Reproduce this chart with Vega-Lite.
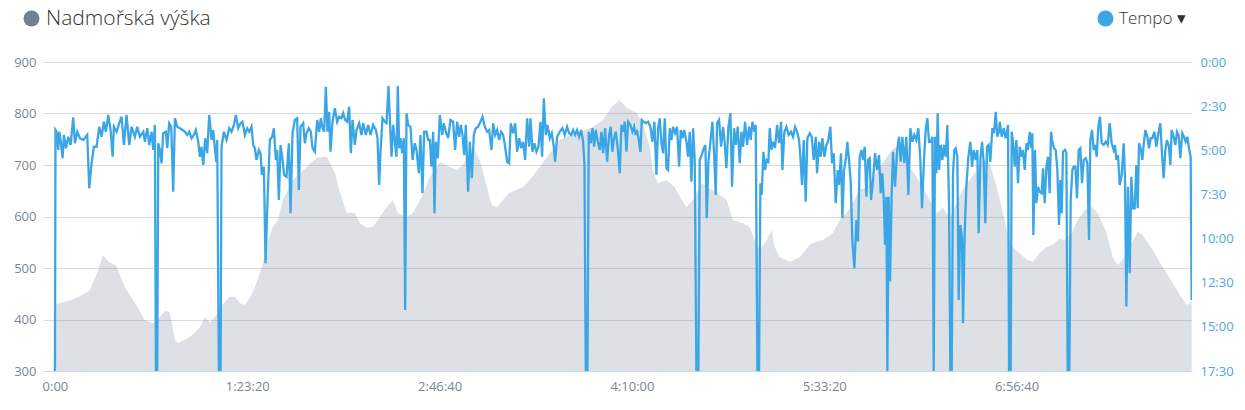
{
"$schema": "https://vega.github.io/schema/vega-lite/v6.json",
"width": 1149, "height": 309,
"autosize": {"type": "none"},
"padding": {"left": 43, "top": 62, "right": 53, "bottom": 39},
"background": "white",
"config": {"view": {"stroke": null}, "font": "Open Sans"},
"datasets": {
"elevation": [
{"t":0,"alt":430},{"t":130,"alt":432},{"t":390,"alt":437},{"t":650,"alt":445},{"t":910,"alt":457},{"t":1092,"alt":490},{"t":1248,"alt":525},{"t":1429,"alt":510},{"t":1585,"alt":506},{"t":1819,"alt":463},{"t":2079,"alt":432},{"t":2339,"alt":399},{"t":2521,"alt":393},{"t":2625,"alt":393},{"t":2729,"alt":405},{"t":2885,"alt":418},{"t":2989,"alt":413},{"t":3119,"alt":360},{"t":3197,"alt":354},{"t":3509,"alt":366},{"t":3769,"alt":385},{"t":3899,"alt":405},{"t":4028,"alt":393},{"t":4158,"alt":405},{"t":4288,"alt":424},{"t":4548,"alt":444},{"t":4678,"alt":444},{"t":4808,"alt":432},{"t":4938,"alt":428},{"t":5068,"alt":442},{"t":5198,"alt":463},{"t":5380,"alt":502},{"t":5536,"alt":554},{"t":5666,"alt":580},{"t":5796,"alt":593},{"t":5926,"alt":632},{"t":6186,"alt":671},{"t":6549,"alt":696},{"t":6809,"alt":714},{"t":7069,"alt":716},{"t":7277,"alt":685},{"t":7407,"alt":646},{"t":7589,"alt":607},{"t":7797,"alt":607},{"t":7927,"alt":587},{"t":8109,"alt":578},{"t":8265,"alt":580},{"t":8447,"alt":599},{"t":8629,"alt":619},{"t":8785,"alt":632},{"t":8915,"alt":607},{"t":9148,"alt":599},{"t":9304,"alt":607},{"t":9538,"alt":638},{"t":9746,"alt":677},{"t":9876,"alt":690},{"t":10006,"alt":706},{"t":10266,"alt":696},{"t":10448,"alt":690},{"t":10604,"alt":700},{"t":10864,"alt":735},{"t":11046,"alt":710},{"t":11228,"alt":657},{"t":11358,"alt":622},{"t":11488,"alt":618},{"t":11644,"alt":632},{"t":11825,"alt":646},{"t":12007,"alt":652},{"t":12163,"alt":657},{"t":12345,"alt":671},{"t":12605,"alt":696},{"t":12865,"alt":723},{"t":13125,"alt":749},{"t":13385,"alt":758},{"t":13645,"alt":764},{"t":13983,"alt":774},{"t":14243,"alt":787},{"t":14476,"alt":813},{"t":14684,"alt":826},{"t":14866,"alt":811},{"t":15126,"alt":801},{"t":15282,"alt":781},{"t":15464,"alt":735},{"t":15542,"alt":690},{"t":15672,"alt":665},{"t":15906,"alt":671},{"t":16114,"alt":657},{"t":16296,"alt":632},{"t":16426,"alt":618},{"t":16582,"alt":632},{"t":16816,"alt":665},{"t":16971,"alt":657},{"t":17205,"alt":646},{"t":17465,"alt":632},{"t":17621,"alt":593},{"t":17881,"alt":587},{"t":18063,"alt":580},{"t":18193,"alt":554},{"t":18323,"alt":535},{"t":18505,"alt":554},{"t":18635,"alt":574},{"t":18713,"alt":541},{"t":18843,"alt":521},{"t":19103,"alt":512},{"t":19363,"alt":521},{"t":19622,"alt":545},{"t":19752,"alt":550},{"t":19960,"alt":554},{"t":20220,"alt":568},{"t":20402,"alt":593},{"t":20584,"alt":607},{"t":20740,"alt":626},{"t":20922,"alt":652},{"t":21130,"alt":657},{"t":21364,"alt":685},{"t":21520,"alt":704},{"t":21754,"alt":729},{"t":21884,"alt":737},{"t":22040,"alt":723},{"t":22221,"alt":696},{"t":22403,"alt":677},{"t":22559,"alt":657},{"t":22741,"alt":632},{"t":22923,"alt":607},{"t":23079,"alt":617},{"t":23261,"alt":599},{"t":23443,"alt":626},{"t":23599,"alt":652},{"t":23781,"alt":671},{"t":23963,"alt":690},{"t":24119,"alt":710},{"t":24301,"alt":704},{"t":24483,"alt":657},{"t":24613,"alt":618},{"t":24691,"alt":593},{"t":24743,"alt":574},{"t":24898,"alt":541},{"t":25080,"alt":529},{"t":25262,"alt":516},{"t":25418,"alt":512},{"t":25600,"alt":529},{"t":25782,"alt":541},{"t":25938,"alt":545},{"t":26120,"alt":558},{"t":26250,"alt":554},{"t":26432,"alt":568},{"t":26588,"alt":593},{"t":26770,"alt":613},{"t":26952,"alt":619},{"t":27108,"alt":607},{"t":27342,"alt":568},{"t":27498,"alt":521},{"t":27628,"alt":506},{"t":27758,"alt":516},{"t":27992,"alt":548},{"t":28147,"alt":570},{"t":28277,"alt":564},{"t":28537,"alt":535},{"t":28797,"alt":502},{"t":29057,"alt":471},{"t":29291,"alt":442},{"t":29421,"alt":428},{"t":29551,"alt":434}
],
"pace": [
{"t":0,"p":1050},{"t":15,"p":231},{"t":43,"p":237},{"t":87,"p":299},{"t":113,"p":237},{"t":147,"p":265},{"t":199,"p":327},{"t":234,"p":248},{"t":286,"p":293},{"t":346,"p":254},{"t":407,"p":282},{"t":476,"p":188},{"t":520,"p":276},{"t":580,"p":237},{"t":650,"p":259},{"t":736,"p":265},{"t":840,"p":248},{"t":892,"p":429},{"t":953,"p":344},{"t":1014,"p":288},{"t":1083,"p":288},{"t":1152,"p":220},{"t":1213,"p":254},{"t":1273,"p":203},{"t":1325,"p":237},{"t":1386,"p":180},{"t":1447,"p":231},{"t":1499,"p":322},{"t":1533,"p":220},{"t":1603,"p":237},{"t":1672,"p":208},{"t":1733,"p":186},{"t":1793,"p":282},{"t":1862,"p":180},{"t":1932,"p":282},{"t":1992,"p":220},{"t":2079,"p":254},{"t":2140,"p":220},{"t":2209,"p":254},{"t":2296,"p":237},{"t":2339,"p":271},{"t":2400,"p":225},{"t":2452,"p":282},{"t":2512,"p":237},{"t":2556,"p":299},{"t":2599,"p":214},{"t":2625,"p":1050},{"t":2660,"p":1050},{"t":2686,"p":276},{"t":2729,"p":299},{"t":2772,"p":344},{"t":2815,"p":242},{"t":2885,"p":237},{"t":2919,"p":293},{"t":2971,"p":208},{"t":3023,"p":220},{"t":3075,"p":441},{"t":3119,"p":191},{"t":3179,"p":220},{"t":3249,"p":225},{"t":3318,"p":231},{"t":3379,"p":237},{"t":3439,"p":248},{"t":3491,"p":237},{"t":3552,"p":259},{"t":3612,"p":248},{"t":3664,"p":231},{"t":3725,"p":271},{"t":3768,"p":322},{"t":3812,"p":288},{"t":3855,"p":350},{"t":3907,"p":259},{"t":3959,"p":310},{"t":4011,"p":180},{"t":4072,"p":265},{"t":4115,"p":231},{"t":4158,"p":293},{"t":4193,"p":339},{"t":4219,"p":265},{"t":4262,"p":1050},{"t":4306,"p":1050},{"t":4331,"p":288},{"t":4392,"p":237},{"t":4461,"p":265},{"t":4531,"p":225},{"t":4591,"p":237},{"t":4652,"p":214},{"t":4704,"p":180},{"t":4765,"p":225},{"t":4825,"p":208},
{"t":4877,"p":203},{"t":4938,"p":248},{"t":4999,"p":225},{"t":5051,"p":237},{"t":5111,"p":220},{"t":5155,"p":282},{"t":5198,"p":293},{"t":5241,"p":333},{"t":5302,"p":299},{"t":5345,"p":310},{"t":5380,"p":384},{"t":5432,"p":356},{"t":5475,"p":684},{"t":5527,"p":469},{"t":5588,"p":265},{"t":5648,"p":254},{"t":5692,"p":225},{"t":5744,"p":333},{"t":5778,"p":299},{"t":5822,"p":469},{"t":5865,"p":282},{"t":5917,"p":333},{"t":5960,"p":384},{"t":6021,"p":390},{"t":6081,"p":276},{"t":6125,"p":514},{"t":6177,"p":242},{"t":6237,"p":197},{"t":6298,"p":191},{"t":6341,"p":435},{"t":6385,"p":220},{"t":6454,"p":208},{"t":6497,"p":276},{"t":6541,"p":242},{"t":6601,"p":225},{"t":6653,"p":237},{"t":6697,"p":293},{"t":6757,"p":305},{"t":6818,"p":197},{"t":6870,"p":237},{"t":6913,"p":191},{"t":6956,"p":225},{"t":7000,"p":237},{"t":7043,"p":84},{"t":7086,"p":237},{"t":7130,"p":169},{"t":7164,"p":305},{"t":7216,"p":203},{"t":7277,"p":157},{"t":7338,"p":203},{"t":7390,"p":186},{"t":7450,"p":191},{"t":7494,"p":174},{"t":7545,"p":197},{"t":7597,"p":203},{"t":7649,"p":152},{"t":7693,"p":310},{"t":7736,"p":197},{"t":7797,"p":282},{"t":7840,"p":231},{"t":7909,"p":208},{"t":7970,"p":248},{"t":8013,"p":208},{"t":8083,"p":248},{"t":8143,"p":214},{"t":8204,"p":248},{"t":8273,"p":214},{"t":8343,"p":231},{"t":8386,"p":259},{"t":8429,"p":418},{"t":8464,"p":305},{"t":8516,"p":191},{"t":8576,"p":203},{"t":8620,"p":208},{"t":8672,"p":82},{"t":8706,"p":191},{"t":8750,"p":322},{"t":8793,"p":214},{"t":8845,"p":282},{"t":8880,"p":322},{"t":8914,"p":82},{"t":8949,"p":293},{"t":8984,"p":259},{"t":9027,"p":310},{"t":9070,"p":259},{"t":9105,"p":843},{"t":9140,"p":174},{"t":9183,"p":214},{"t":9244,"p":220},{"t":9296,"p":333},{"t":9356,"p":276},{"t":9399,"p":299},{"t":9460,"p":378},{"t":9503,"p":248},{"t":9555,"p":446},{"t":9599,"p":237},{"t":9659,"p":237},{"t":9703,"p":265},
{"t":9746,"p":265},{"t":9789,"p":356},{"t":9833,"p":237},{"t":9867,"p":514},{"t":9902,"p":271},{"t":9954,"p":327},{"t":10006,"p":180},{"t":10067,"p":248},{"t":10110,"p":208},{"t":10162,"p":237},{"t":10222,"p":259},{"t":10283,"p":197},{"t":10352,"p":203},{"t":10404,"p":299},{"t":10456,"p":203},{"t":10508,"p":254},{"t":10552,"p":214},{"t":10595,"p":248},{"t":10638,"p":316},{"t":10682,"p":214},{"t":10742,"p":441},{"t":10786,"p":271},{"t":10838,"p":395},{"t":10890,"p":248},{"t":10941,"p":225},{"t":11002,"p":220},{"t":11063,"p":203},{"t":11115,"p":186},{"t":11175,"p":220},{"t":11236,"p":237},{"t":11288,"p":231},{"t":11349,"p":299},{"t":11392,"p":208},{"t":11444,"p":248},{"t":11496,"p":231},{"t":11548,"p":265},{"t":11600,"p":237},{"t":11652,"p":248},{"t":11704,"p":288},{"t":11756,"p":339},{"t":11808,"p":344},{"t":11851,"p":208},{"t":11912,"p":242},{"t":11964,"p":208},{"t":12016,"p":305},{"t":12068,"p":259},{"t":12120,"p":293},{"t":12172,"p":271},{"t":12224,"p":333},{"t":12276,"p":191},{"t":12328,"p":288},{"t":12362,"p":191},{"t":12414,"p":305},{"t":12466,"p":276},{"t":12518,"p":305},{"t":12570,"p":288},{"t":12622,"p":203},{"t":12665,"p":322},{"t":12709,"p":123},{"t":12761,"p":248},{"t":12804,"p":214},{"t":12865,"p":259},{"t":12917,"p":242},{"t":12969,"p":288},{"t":13003,"p":339},{"t":13055,"p":254},{"t":13125,"p":237},{"t":13194,"p":225},{"t":13254,"p":248},{"t":13315,"p":220},{"t":13367,"p":242},{"t":13419,"p":248},{"t":13471,"p":231},{"t":13523,"p":248},{"t":13575,"p":231},{"t":13627,"p":254},{"t":13679,"p":231},{"t":13731,"p":271},{"t":13766,"p":350},{"t":13800,"p":1050},{"t":13844,"p":1050},{"t":13878,"p":237},{"t":13930,"p":276},{"t":13974,"p":225},{"t":14017,"p":288},{"t":14060,"p":231},{"t":14112,"p":271},{"t":14164,"p":299},{"t":14207,"p":237},{"t":14251,"p":310},{"t":14303,"p":225},{"t":14355,"p":339},{"t":14407,"p":248},{"t":14450,"p":220},{"t":14493,"p":305},{"t":14528,"p":265},{"t":14580,"p":237},{"t":14632,"p":293},{"t":14684,"p":378},
{"t":14727,"p":214},{"t":14771,"p":237},{"t":14814,"p":203},{"t":14857,"p":305},{"t":14901,"p":203},{"t":14961,"p":214},{"t":15013,"p":237},{"t":15057,"p":220},{"t":15100,"p":248},{"t":15134,"p":231},{"t":15178,"p":265},{"t":15221,"p":305},{"t":15256,"p":197},{"t":15308,"p":203},{"t":15360,"p":208},{"t":15420,"p":203},{"t":15481,"p":220},{"t":15533,"p":271},{"t":15585,"p":203},{"t":15637,"p":384},{"t":15680,"p":225},{"t":15724,"p":191},{"t":15767,"p":276},{"t":15810,"p":310},{"t":15854,"p":191},{"t":15897,"p":361},{"t":15940,"p":367},{"t":15983,"p":225},{"t":16027,"p":265},{"t":16070,"p":220},{"t":16122,"p":242},{"t":16174,"p":220},{"t":16226,"p":356},{"t":16269,"p":231},{"t":16313,"p":259},{"t":16356,"p":231},{"t":16417,"p":271},{"t":16460,"p":322},{"t":16503,"p":237},{"t":16547,"p":407},{"t":16590,"p":225},{"t":16633,"p":333},{"t":16676,"p":1050},{"t":16728,"p":1050},{"t":16763,"p":333},{"t":16815,"p":316},{"t":16867,"p":293},{"t":16910,"p":282},{"t":16945,"p":531},{"t":16988,"p":339},{"t":17040,"p":271},{"t":17092,"p":203},{"t":17136,"p":310},{"t":17179,"p":452},{"t":17214,"p":208},{"t":17266,"p":197},{"t":17318,"p":288},{"t":17370,"p":220},{"t":17413,"p":276},{"t":17456,"p":361},{"t":17508,"p":220},{"t":17560,"p":174},{"t":17603,"p":424},{"t":17655,"p":225},{"t":17699,"p":282},{"t":17751,"p":220},{"t":17803,"p":344},{"t":17846,"p":237},{"t":17889,"p":288},{"t":17941,"p":203},{"t":17993,"p":282},{"t":18045,"p":220},{"t":18089,"p":265},{"t":18132,"p":203},{"t":18184,"p":237},{"t":18218,"p":214},{"t":18262,"p":1050},{"t":18305,"p":1050},{"t":18340,"p":412},{"t":18374,"p":452},{"t":18418,"p":305},{"t":18461,"p":367},{"t":18504,"p":333},{"t":18548,"p":339},{"t":18582,"p":225},{"t":18626,"p":299},{"t":18669,"p":271},{"t":18721,"p":293},{"t":18773,"p":214},{"t":18825,"p":276},{"t":18877,"p":203},{"t":18912,"p":367},{"t":18964,"p":237},{"t":19016,"p":220},{"t":19076,"p":248},{"t":19137,"p":237},{"t":19189,"p":254},{"t":19241,"p":220},{"t":19293,"p":237},{"t":19345,"p":265},{"t":19379,"p":322},{"t":19423,"p":418},{"t":19466,"p":265},{"t":19518,"p":475},{"t":19561,"p":259},{"t":19622,"p":242},
{"t":19674,"p":254},{"t":19726,"p":333},{"t":19778,"p":254},{"t":19813,"p":378},{"t":19865,"p":271},{"t":19908,"p":322},{"t":19951,"p":259},{"t":20003,"p":322},{"t":20055,"p":282},{"t":20098,"p":271},{"t":20159,"p":220},{"t":20202,"p":344},{"t":20246,"p":310},{"t":20298,"p":480},{"t":20350,"p":367},{"t":20384,"p":418},{"t":20436,"p":310},{"t":20471,"p":531},{"t":20514,"p":367},{"t":20558,"p":333},{"t":20601,"p":271},{"t":20644,"p":333},{"t":20688,"p":407},{"t":20731,"p":610},{"t":20783,"p":701},{"t":20835,"p":537},{"t":20878,"p":610},{"t":20921,"p":322},{"t":20965,"p":299},{"t":21008,"p":333},{"t":21051,"p":288},{"t":21095,"p":458},{"t":21138,"p":333},{"t":21181,"p":327},{"t":21216,"p":469},{"t":21268,"p":401},{"t":21320,"p":310},{"t":21372,"p":367},{"t":21424,"p":316},{"t":21467,"p":446},{"t":21511,"p":378},{"t":21545,"p":463},{"t":21580,"p":622},{"t":21615,"p":458},{"t":21640,"p":1050},{"t":21675,"p":458},{"t":21710,"p":746},{"t":21753,"p":446},{"t":21788,"p":305},{"t":21840,"p":424},{"t":21892,"p":305},{"t":21944,"p":254},{"t":21987,"p":339},{"t":22030,"p":254},{"t":22082,"p":344},{"t":22134,"p":254},{"t":22186,"p":452},{"t":22238,"p":225},{"t":22290,"p":271},{"t":22342,"p":248},{"t":22394,"p":265},{"t":22446,"p":225},{"t":22498,"p":333},{"t":22541,"p":497},{"t":22593,"p":333},{"t":22637,"p":231},{"t":22680,"p":191},{"t":22723,"p":271},{"t":22775,"p":271},{"t":22810,"p":254},{"t":22845,"p":1050},{"t":22879,"p":254},{"t":22914,"p":378},{"t":22949,"p":174},{"t":22983,"p":367},{"t":23027,"p":282},{"t":23070,"p":333},{"t":23113,"p":282},{"t":23157,"p":322},{"t":23200,"p":214},{"t":23243,"p":480},{"t":23278,"p":1050},{"t":23313,"p":1050},{"t":23347,"p":378},{"t":23382,"p":299},{"t":23416,"p":293},{"t":23460,"p":322},{"t":23494,"p":809},{"t":23538,"p":554},{"t":23581,"p":599},{"t":23607,"p":888},{"t":23650,"p":582},{"t":23694,"p":424},{"t":23746,"p":322},{"t":23798,"p":271},{"t":23841,"p":356},{"t":23884,"p":299},{"t":23936,"p":333},{"t":23980,"p":299},{"t":24014,"p":582},{"t":24058,"p":333},{"t":24101,"p":271},{"t":24144,"p":339},{"t":24187,"p":548},{"t":24231,"p":288},{"t":24274,"p":282},{"t":24317,"p":339},{"t":24369,"p":225},{"t":24413,"p":242},{"t":24456,"p":169},{"t":24499,"p":254},{"t":24543,"p":237},
{"t":24561,"p":203},{"t":24613,"p":254},{"t":24665,"p":225},{"t":24717,"p":259},{"t":24778,"p":214},{"t":24804,"p":1050},{"t":24847,"p":1050},{"t":24873,"p":237},{"t":24908,"p":271},{"t":24951,"p":356},{"t":24994,"p":265},{"t":25037,"p":412},{"t":25081,"p":288},{"t":25124,"p":322},{"t":25167,"p":299},{"t":25211,"p":367},{"t":25254,"p":276},{"t":25297,"p":299},{"t":25341,"p":237},{"t":25384,"p":293},{"t":25410,"p":242},{"t":25436,"p":588},{"t":25479,"p":299},{"t":25514,"p":480},{"t":25557,"p":424},{"t":25601,"p":441},{"t":25653,"p":446},{"t":25687,"p":361},{"t":25731,"p":480},{"t":25774,"p":356},{"t":25817,"p":322},{"t":25860,"p":446},{"t":25895,"p":237},{"t":25930,"p":271},{"t":25973,"p":293},{"t":26016,"p":299},{"t":26060,"p":367},{"t":26103,"p":554},{"t":26138,"p":401},{"t":26172,"p":514},{"t":26207,"p":305},{"t":26259,"p":299},{"t":26294,"p":310},{"t":26328,"p":1050},{"t":26372,"p":1050},{"t":26406,"p":469},{"t":26450,"p":367},{"t":26484,"p":356},{"t":26528,"p":356},{"t":26571,"p":463},{"t":26614,"p":299},{"t":26657,"p":293},{"t":26701,"p":412},{"t":26744,"p":333},{"t":26796,"p":327},{"t":26839,"p":344},{"t":26883,"p":605},{"t":26917,"p":265},{"t":26961,"p":231},{"t":27004,"p":299},{"t":27039,"p":282},{"t":27082,"p":322},{"t":27125,"p":220},{"t":27169,"p":186},{"t":27212,"p":276},{"t":27264,"p":282},{"t":27316,"p":271},{"t":27368,"p":282},{"t":27420,"p":208},{"t":27472,"p":276},{"t":27524,"p":299},{"t":27558,"p":282},{"t":27593,"p":333},{"t":27636,"p":316},{"t":27680,"p":418},{"t":27732,"p":384},{"t":27784,"p":276},{"t":27818,"p":390},{"t":27853,"p":831},{"t":27896,"p":424},{"t":27940,"p":718},{"t":27983,"p":390},{"t":28026,"p":497},{"t":28070,"p":497},{"t":28113,"p":350},{"t":28148,"p":497},{"t":28182,"p":276},{"t":28225,"p":293},{"t":28269,"p":333},{"t":28303,"p":282},{"t":28347,"p":231},{"t":28399,"p":254},{"t":28442,"p":293},{"t":28485,"p":259},{"t":28529,"p":259},{"t":28581,"p":237},{"t":28633,"p":288},{"t":28685,"p":242},{"t":28737,"p":208},{"t":28780,"p":310},{"t":28823,"p":395},{"t":28867,"p":299},{"t":28910,"p":265},{"t":28962,"p":288},{"t":28997,"p":350},{"t":29031,"p":231},{"t":29083,"p":254},{"t":29127,"p":282},{"t":29170,"p":237},{"t":29213,"p":248},{"t":29256,"p":327},{"t":29308,"p":242},{"t":29352,"p":254},{"t":29395,"p":271},{"t":29438,"p":254},{"t":29482,"p":293},{"t":29525,"p":322},{"t":29551,"p":809}
]
},
"layer": [
{
"data": {"name": "elevation"},
"mark": {"type": "area", "clip": true, "fillOpacity": 0.24},
"encoding": {
"x": {"field": "t", "type": "quantitative",
 "scale": {"domain": [-310, 29560], "nice": false, "zero": false},
 "axis": {"title": null, "values": [0, 5000, 10000, 15000, 20000, 25000], "grid": false, "ticks": false, "domain": true, "domainColor": "#ccd6eb", "domainWidth": 1, "labelColor": "#7b8691", "labelFontSize": 13, "labelPadding": 9, "labelFlush": false,
 "labelExpr": "datum.value == 0 ? '0:00' : floor(datum.value/3600) + ':' + (floor((datum.value%3600)/60) < 10 ? '0' : '') + floor((datum.value%3600)/60) + ':' + (datum.value%60 < 10 ? '0' : '') + (datum.value%60)"}},
"y": {"field": "alt", "type": "quantitative",
 "scale": {"domain": [300, 900], "nice": false, "zero": false},
 "axis": {"title": null, "values": [300, 400, 500, 600, 700, 800, 900], "grid": true, "gridColor": "#dadada", "gridWidth": 1, "ticks": false, "domain": false, "labelColor": "#7b8691", "labelFontSize": 13, "labelPadding": 7}},
"y2": {"datum": 300},
"fill": {"datum": "Nadmořská výška", "type": "nominal", "scale": {"range": ["#6f8193"]},
 "legend": {"title": null, "orient": "none", "legendX": -22, "legendY": -54, "symbolType": "circle", "symbolSize": 256, "symbolOpacity": 1, "labelFontSize": 21, "labelFontWeight": 300, "labelColor": "#333333", "labelOffset": 4, "labelLimit": 400,
  "encode": {"symbols": {"update": {"fillOpacity": {"value": 1}, "opacity": {"value": 1}, "strokeWidth": {"value": 0}}}}}}
}
},
{
"data": {"name": "pace"},
"mark": {"type": "line", "strokeWidth": 2.3, "clip": true},
"encoding": {
"x": {"field": "t", "type": "quantitative"},
"y": {"field": "p", "type": "quantitative",
 "scale": {"domain": [0, 1050], "reverse": true, "nice": false, "zero": false},
 "axis": {"orient": "right", "title": null, "values": [0, 150, 300, 450, 600, 750, 900, 1050], "grid": false, "ticks": false, "domain": false, "labelColor": "#4aa8df", "labelFontSize": 13, "labelPadding": 8,
 "labelExpr": "floor(datum.value/60) + ':' + (datum.value%60 < 10 ? '0' : '') + (datum.value%60)"}},
"stroke": {"datum": "Tempo", "type": "nominal", "scale": {"range": ["#3ba6e6"]},
 "legend": {"title": null, "orient": "none", "legendX": 1054, "legendY": -52, "symbolType": "circle", "symbolSize": 256, "labelFontSize": 17, "labelFontWeight": 300, "labelColor": "#333333", "labelOffset": 5, "labelLimit": 300,
  "labelExpr": "datum.label + ' ▾'",
  "encode": {"symbols": {"update": {"fill": {"value": "#3ba6e6"}, "stroke": {"value": "#3ba6e6"}, "opacity": {"value": 1}, "strokeWidth": {"value": 0}}}}}}
}
}
],
"resolve": {"scale": {"y": "independent"}}
}
